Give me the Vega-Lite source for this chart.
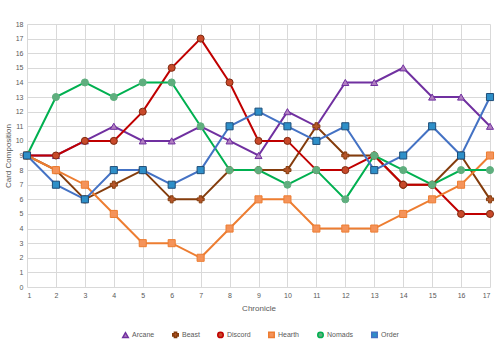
{
  "$schema": "https://vega.github.io/schema/vega-lite/v6.json",
  "width": 463,
  "height": 263,
  "autosize": {"type": "none"},
  "padding": {"left": 27, "top": 24, "right": 10, "bottom": 76},
  "background": "white",
  "config": {
    "view": {"stroke": null},
    "font": "Liberation Sans",
    "axis": {"labelColor": "#595959", "titleColor": "#595959", "labelFontSize": 7, "titleFontSize": 8, "titleFontWeight": "normal", "gridColor": "#D9D9D9", "domain": false, "ticks": false}
  },
  "datasets": {
    "d": [
      {"c":1,"s":"Arcane","v":9},{"c":2,"s":"Arcane","v":9},{"c":3,"s":"Arcane","v":10},{"c":4,"s":"Arcane","v":11},{"c":5,"s":"Arcane","v":10},{"c":6,"s":"Arcane","v":10},{"c":7,"s":"Arcane","v":11},{"c":8,"s":"Arcane","v":10},{"c":9,"s":"Arcane","v":9},{"c":10,"s":"Arcane","v":12},{"c":11,"s":"Arcane","v":11},{"c":12,"s":"Arcane","v":14},{"c":13,"s":"Arcane","v":14},{"c":14,"s":"Arcane","v":15},{"c":15,"s":"Arcane","v":13},{"c":16,"s":"Arcane","v":13},{"c":17,"s":"Arcane","v":11},
      {"c":1,"s":"Beast","v":9},{"c":2,"s":"Beast","v":8},{"c":3,"s":"Beast","v":6},{"c":4,"s":"Beast","v":7},{"c":5,"s":"Beast","v":8},{"c":6,"s":"Beast","v":6},{"c":7,"s":"Beast","v":6},{"c":8,"s":"Beast","v":8},{"c":9,"s":"Beast","v":8},{"c":10,"s":"Beast","v":8},{"c":11,"s":"Beast","v":11},{"c":12,"s":"Beast","v":9},{"c":13,"s":"Beast","v":9},{"c":14,"s":"Beast","v":7},{"c":15,"s":"Beast","v":7},{"c":16,"s":"Beast","v":9},{"c":17,"s":"Beast","v":6},
      {"c":1,"s":"Discord","v":9},{"c":2,"s":"Discord","v":9},{"c":3,"s":"Discord","v":10},{"c":4,"s":"Discord","v":10},{"c":5,"s":"Discord","v":12},{"c":6,"s":"Discord","v":15},{"c":7,"s":"Discord","v":17},{"c":8,"s":"Discord","v":14},{"c":9,"s":"Discord","v":10},{"c":10,"s":"Discord","v":10},{"c":11,"s":"Discord","v":8},{"c":12,"s":"Discord","v":8},{"c":13,"s":"Discord","v":9},{"c":14,"s":"Discord","v":7},{"c":15,"s":"Discord","v":7},{"c":16,"s":"Discord","v":5},{"c":17,"s":"Discord","v":5},
      {"c":1,"s":"Hearth","v":9},{"c":2,"s":"Hearth","v":8},{"c":3,"s":"Hearth","v":7},{"c":4,"s":"Hearth","v":5},{"c":5,"s":"Hearth","v":3},{"c":6,"s":"Hearth","v":3},{"c":7,"s":"Hearth","v":2},{"c":8,"s":"Hearth","v":4},{"c":9,"s":"Hearth","v":6},{"c":10,"s":"Hearth","v":6},{"c":11,"s":"Hearth","v":4},{"c":12,"s":"Hearth","v":4},{"c":13,"s":"Hearth","v":4},{"c":14,"s":"Hearth","v":5},{"c":15,"s":"Hearth","v":6},{"c":16,"s":"Hearth","v":7},{"c":17,"s":"Hearth","v":9},
      {"c":1,"s":"Nomads","v":9},{"c":2,"s":"Nomads","v":13},{"c":3,"s":"Nomads","v":14},{"c":4,"s":"Nomads","v":13},{"c":5,"s":"Nomads","v":14},{"c":6,"s":"Nomads","v":14},{"c":7,"s":"Nomads","v":11},{"c":8,"s":"Nomads","v":8},{"c":9,"s":"Nomads","v":8},{"c":10,"s":"Nomads","v":7},{"c":11,"s":"Nomads","v":8},{"c":12,"s":"Nomads","v":6},{"c":13,"s":"Nomads","v":9},{"c":14,"s":"Nomads","v":8},{"c":15,"s":"Nomads","v":7},{"c":16,"s":"Nomads","v":8},{"c":17,"s":"Nomads","v":8},
      {"c":1,"s":"Order","v":9},{"c":2,"s":"Order","v":7},{"c":3,"s":"Order","v":6},{"c":4,"s":"Order","v":8},{"c":5,"s":"Order","v":8},{"c":6,"s":"Order","v":7},{"c":7,"s":"Order","v":8},{"c":8,"s":"Order","v":11},{"c":9,"s":"Order","v":12},{"c":10,"s":"Order","v":11},{"c":11,"s":"Order","v":10},{"c":12,"s":"Order","v":11},{"c":13,"s":"Order","v":8},{"c":14,"s":"Order","v":9},{"c":15,"s":"Order","v":11},{"c":16,"s":"Order","v":9},{"c":17,"s":"Order","v":13}
    ]
  },
  "data": {"name": "d"},
  "encoding": {
    "x": {"field": "c", "type": "quantitative", "title": "Chronicle",
          "scale": {"domain": [1, 17], "nice": false, "zero": false},
          "axis": {"values": [1,2,3,4,5,6,7,8,9,10,11,12,13,14,15,16,17], "titlePadding": 6, "labelPadding": 4}},
    "y": {"field": "v", "type": "quantitative", "title": "Card Composition",
          "scale": {"domain": [0, 18], "nice": false},
          "axis": {"values": [0,1,2,3,4,5,6,7,8,9,10,11,12,13,14,15,16,17,18], "titlePadding": 3, "labelPadding": 4}},
    "color": {"field": "s", "type": "nominal", "title": null,
              "scale": {"domain": ["Arcane","Beast","Discord","Hearth","Nomads","Order"],
                        "range": ["#7030A0","#843C0C","#C00000","#ED7D31","#00B050","#4472C4"]},
              "legend": {"orient": "none", "legendX": 95, "legendY": 307, "direction": "horizontal", "labelFontSize": 7, "labelColor": "#595959", "columnPadding": 14, "symbolSize": 30, "symbolStrokeWidth": 1.5, "labelOffset": 3}}
  },
  "layer": [
    {"mark": {"type": "line", "strokeWidth": 2}},
    {"mark": {"type": "point", "filled": true, "size": 50, "opacity": 1, "strokeWidth": 1},
     "encoding": {
       "shape": {"field": "s", "type": "nominal", "title": null,
                 "scale": {"domain": ["Arcane","Beast","Discord","Hearth","Nomads","Order"],
                           "range": ["triangle-up","cross","circle","square","circle","square"]}},
       "fill": {"field": "s", "type": "nominal", "legend": null,
                "scale": {"domain": ["Arcane","Beast","Discord","Hearth","Nomads","Order"],
                          "range": ["#B07FBF","#B5552A","#C8492A","#F4935A","#5FAE7E","#2E8FC8"]}},
       "stroke": {"field": "s", "type": "nominal", "legend": null,
                "scale": {"domain": ["Arcane","Beast","Discord","Hearth","Nomads","Order"],
                          "range": ["#7030A0","#843C0C","#7F2A10","#ED7D31","#5FAE7E","#1F4E79"]}}
     }}
  ]
}
